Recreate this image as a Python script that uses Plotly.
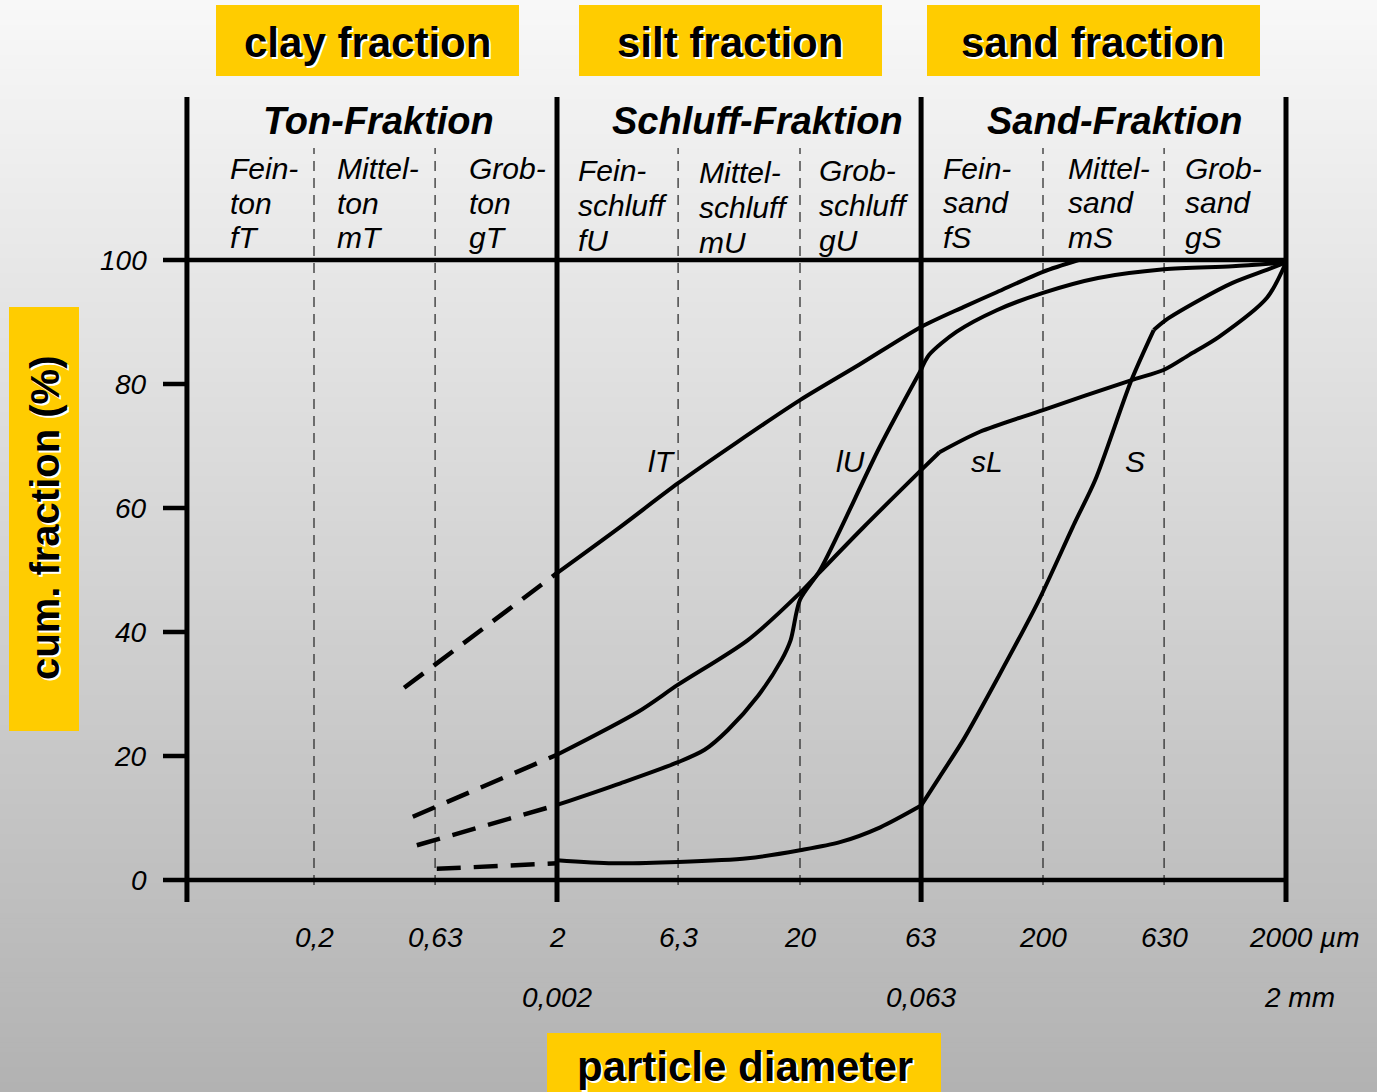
import numpy as np
import plotly.graph_objects as go

# ---------------- data (particle diameter in µm, cumulative fraction in %) ----------------
lT_dash_d = [0.47, 2.0]
lT_dash_v = [31.0, 49.5]
lT_d = [2.0, 3.6, 6.3, 11.0, 20.0, 35.0, 63.0, 94.0, 129.0, 200.0, 280.0]
lT_v = [49.5, 56.8, 64.0, 70.6, 77.4, 83.1, 89.2, 92.4, 94.8, 98.1, 100.0]

sL_dash_d = [0.51, 2.0]
sL_dash_v = [10.2, 20.2]
sL_d = [2.0, 4.3, 6.3, 12.2, 20.0, 24.2, 36.5, 63.0, 75.0, 110.0, 200.0, 460.0, 630.0, 800.0, 1060.0, 1670.0, 2000.0]
sL_v = [20.2, 27.1, 31.5, 38.7, 46.3, 49.7, 56.9, 66.1, 69.0, 72.3, 75.8, 80.6, 82.3, 84.7, 87.6, 93.9, 99.6]

lU_dash_d = [0.53, 2.0]
lU_dash_v = [5.6, 12.1]
lU_d = [2.0, 3.65, 6.3, 8.1, 10.1, 13.5, 16.8, 18.3, 20.0, 24.2, 42.5, 63.0, 68.0, 88.0, 129.0, 200.0, 337.0, 630.0, 1205.0, 2000.0]
lU_v = [12.1, 15.6, 19.0, 21.0, 24.2, 29.8, 35.5, 38.7, 45.2, 50.0, 69.8, 82.3, 84.7, 88.4, 91.9, 94.7, 97.1, 98.5, 99.0, 99.6]

S_dash_d = [0.64, 2.0]
S_dash_v = [1.8, 2.7]
S_d = [2.0, 3.4, 6.3, 12.2, 20.0, 29.2, 42.8, 63.0, 75.0, 94.0, 129.0, 190.0, 270.0, 328.0, 462.0, 571.0, 640.0, 878.0, 1205.0, 1667.0, 2000.0]
S_v = [3.2, 2.7, 2.9, 3.5, 4.8, 6.1, 8.5, 12.0, 16.6, 22.6, 32.3, 44.7, 57.6, 64.5, 80.6, 88.7, 90.3, 93.5, 96.3, 98.4, 99.6]

# diameters where a curve shows a visible bend (µm)
lT_kinks = []
sL_kinks = [75.0]
lU_kinks = [63.0]
S_kinks = [63.0, 571.0]

# class boundaries (µm)
major_bounds = [0.06, 2.0, 63.0, 2000.0]
minor_bounds = [0.2, 0.63, 6.3, 20.0, 200.0, 630.0]

# axis ticks
y_ticks = [0, 20, 40, 60, 80, 100]
y_ticklabels = ["0", "20", "40", "60", "80", "100"]
x_ticks = [0.2, 0.63, 2.0, 6.3, 20.0, 63.0, 200.0, 630.0]
x_ticklabels = ["0,2", "0,63", "2", "6,3", "20", "63", "200", "630"]
x_ticks_mm = [2.0, 63.0]
x_ticklabels_mm = ["0,002", "0,063"]

curve_labels = ["lT", "lU", "sL", "S"]

# ---------------- layout helpers ----------------
W, H = 1377, 1092
FONT = "Liberation Sans, Arial, sans-serif"
PXD = 243.0                      # pixels per decade
X0_LOG = np.log10(2.0)           # 2 µm at pixel 557
def xlog_at(px):
    return X0_LOG + (px - 557) / PXD
PPV = 6.2                        # pixels per percent, 0% at pixel 880
def v_at(py):
    return (880 - py) / PPV
def PX(x):
    return x / W
def PY(y):
    return 1 - y / H

x_left = 10 ** xlog_at(163)

fig = go.Figure()

# dashed sub-class boundaries
for b in minor_bounds:
    fig.add_trace(go.Scatter(x=[b, b], y=[v_at(885), v_at(148)], mode="lines",
                             line=dict(color="#222222", width=1.2, dash="10px,7px"),
                             hoverinfo="skip", showlegend=False))

def split(d, v, kinks):
    idx = [0] + [d.index(k) for k in kinks] + [len(d) - 1]
    return [(d[a:b + 1], v[a:b + 1]) for a, b in zip(idx[:-1], idx[1:])]

# curves
curves = [
    (lT_dash_d, lT_dash_v, lT_d, lT_v, lT_kinks),
    (sL_dash_d, sL_dash_v, sL_d, sL_v, sL_kinks),
    (lU_dash_d, lU_dash_v, lU_d, lU_v, lU_kinks),
    (S_dash_d, S_dash_v, S_d, S_v, S_kinks),
]
for dd, dv, sd, sv, kinks in curves:
    fig.add_trace(go.Scatter(x=dd, y=dv, mode="lines",
                             line=dict(color="black", width=4.5, dash="24px,13px"),
                             hoverinfo="skip", showlegend=False))
    for segd, segv in split(sd, sv, kinks):
        fig.add_trace(go.Scatter(x=segd, y=segv, mode="lines",
                                 line=dict(color="black", width=4, shape="spline", smoothing=0.8),
                                 hoverinfo="skip", showlegend=False))

# thick class boundaries (incl. y axis line)
for b in major_bounds:
    fig.add_trace(go.Scatter(x=[b, b], y=[v_at(902), v_at(97)], mode="lines",
                             line=dict(color="black", width=5),
                             hoverinfo="skip", showlegend=False))

# 0 and 100 lines, y ticks
for t in y_ticks:
    if t in (0, 100):
        xs = [x_left, major_bounds[-1]]
    else:
        xs = [x_left, major_bounds[0]]
    fig.add_trace(go.Scatter(x=xs, y=[t, t], mode="lines",
                             line=dict(color="black", width=4.5),
                             hoverinfo="skip", showlegend=False))

# ---------------- background gradient ----------------
shapes = []
N = 220
for i in range(N):
    y0 = i / N
    y1 = (i + 1) / N
    t = 1 - (y0 + y1) / 2          # 0 at top, 1 at bottom
    c = int(round(248 - 70 * t))
    shapes.append(dict(type="rect", xref="paper", yref="paper", x0=0, x1=1, y0=y0, y1=y1 + 0.002,
                       fillcolor=f"rgb({c},{c},{c})", line=dict(width=0), layer="below"))

YEL = "#FFCC00"
boxes = [(216, 519, 5, 76), (579, 882, 5, 76), (927, 1260, 5, 76),
         (547, 941, 1033, 1100), (9, 79, 307, 731)]
for x0, x1, y0, y1 in boxes:
    shapes.append(dict(type="rect", xref="paper", yref="paper", x0=PX(x0), x1=PX(x1),
                       y0=PY(y1), y1=PY(y0), fillcolor=YEL, line=dict(width=0), layer="below"))

ann = []
def text(x, y, s, size, xanchor="center", xref="paper", yref="paper", textangle=0,
         shadow=False, xshift=0):
    if shadow:
        ann.append(dict(x=x, y=y, xref=xref, yref=yref, text=s, showarrow=False,
                        xanchor=xanchor, yanchor="middle", textangle=textangle,
                        xshift=xshift + 2, yshift=-2,
                        font=dict(family=FONT, size=size, color="white")))
    ann.append(dict(x=x, y=y, xref=xref, yref=yref, text=s, showarrow=False,
                    xanchor=xanchor, yanchor="middle", textangle=textangle, xshift=xshift,
                    font=dict(family=FONT, size=size, color="black")))

# yellow box titles
text(PX(367), PY(43), "<b>clay fraction</b>", 42, shadow=True)
text(PX(730), PY(43), "<b>silt fraction</b>", 42, shadow=True)
text(PX(1093), PY(43), "<b>sand fraction</b>", 42, shadow=True)
text(PX(745), PY(1066), "<b>particle diameter</b>", 42, shadow=True)
text(PX(45), PY(518), "<b>cum. fraction (%)</b>", 40, textangle=-90, shadow=True)

# German fraction headers
text(PX(378), PY(121), "<b><i>Ton-Fraktion</i></b>", 38)
text(PX(758), PY(121), "<b><i>Schluff-Fraktion</i></b>", 38)
text(PX(1114), PY(121), "<b><i>Sand-Fraktion</i></b>", 38)

sub = [
    (228, [168, 203, 237], ["Fein-", "ton", "fT"]),
    (335, [168, 203, 237], ["Mittel-", "ton", "mT"]),
    (467, [168, 203, 237], ["Grob-", "ton", "gT"]),
    (576, [170, 205, 240], ["Fein-", "schluff", "fU"]),
    (697, [172, 207, 242], ["Mittel-", "schluff", "mU"]),
    (817, [170, 205, 240], ["Grob-", "schluff", "gU"]),
    (941, [168, 202, 237], ["Fein-", "sand", "fS"]),
    (1066, [168, 202, 237], ["Mittel-", "sand", "mS"]),
    (1183, [168, 202, 237], ["Grob-", "sand", "gS"]),
]
for x, ys, lines in sub:
    for y, s in zip(ys, lines):
        text(PX(x), PY(y), f"<i>{s}</i>", 30, xanchor="left")

# curve labels
for (x, y), s in zip([(662, 461), (850, 461), (987, 461), (1135, 461)], curve_labels):
    text(PX(x), PY(y), f"<i>{s}</i>", 30)

# y tick labels
for t, s in zip(y_ticks, y_ticklabels):
    text(PX(149), t, f"<i>{s}</i>", 28, xanchor="right", yref="y")

# x tick labels
for t, s in zip(x_ticks, x_ticklabels):
    text(np.log10(t), PY(938), f"<i>{s}</i>", 28, xref="x")
text(PX(1247), PY(938), "<i>2000 µm</i>", 28, xanchor="left")
for t, s in zip(x_ticks_mm, x_ticklabels_mm):
    text(np.log10(t), PY(997), f"<i>{s}</i>", 28, xref="x")
text(PX(1299), PY(997), "<i>2 mm</i>", 28)

fig.update_layout(
    width=W, height=H,
    margin=dict(l=0, r=0, t=0, b=0),
    paper_bgcolor="rgb(215,215,215)",
    plot_bgcolor="rgba(0,0,0,0)",
    shapes=shapes,
    annotations=ann,
    showlegend=False,
    xaxis=dict(type="log", range=[xlog_at(163), xlog_at(1300)], domain=[PX(163), PX(1300)],
               visible=False, showgrid=False, zeroline=False),
    yaxis=dict(range=[v_at(905), v_at(95)], domain=[PY(905), PY(95)],
               visible=False, showgrid=False, zeroline=False),
    font=dict(family=FONT),
)

fig.write_html("out.html")
